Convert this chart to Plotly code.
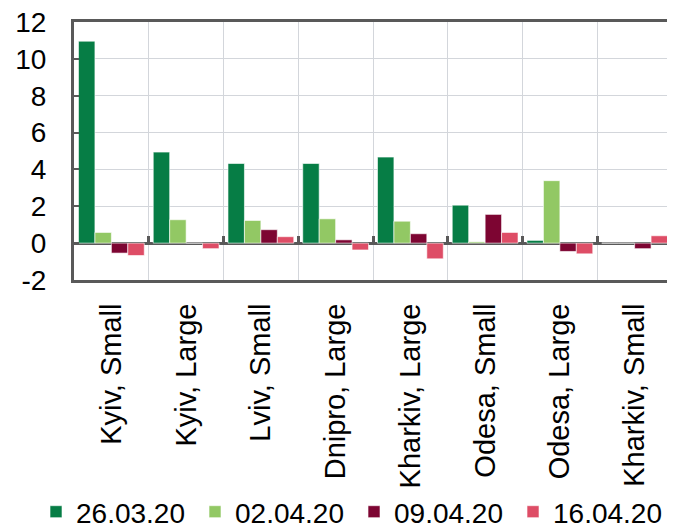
import plotly.graph_objects as go

categories = ["Kyiv, Small", "Kyiv, Large", "Lviv, Small", "Dnipro, Large",
              "Kharkiv, Large", "Odesa, Small", "Odesa, Large", "Kharkiv, Small"]
series_names = ["26.03.20", "02.04.20", "09.04.20", "16.04.20"]
s_26_03 = [10.96, 4.94, 4.32, 4.32, 4.67, 2.06, 0.15, 0.0]
s_02_04 = [0.58, 1.27, 1.23, 1.32, 1.19, 0.07, 3.39, 0.0]
s_09_04 = [-0.54, 0.0, 0.73, 0.18, 0.51, 1.56, -0.45, -0.30]
s_16_04 = [-0.67, -0.30, 0.35, -0.37, -0.85, 0.58, -0.58, 0.40]
y_ticks = [-2, 0, 2, 4, 6, 8, 10, 12]
y_tick_text = ["-2", "0", "2", "4", "6", "8", "10", "12"]

colors = ["#067D45", "#92C864", "#7D0532", "#DE4D66"]
FONT = "Liberation Sans, Arial, sans-serif"

fig = go.Figure()
for name, vals, col in zip(series_names, [s_26_03, s_02_04, s_09_04, s_16_04], colors):
    fig.add_trace(go.Bar(
        x=categories, y=vals, name=name,
        marker=dict(color=col, line=dict(color="rgba(255,255,255,0.6)", width=1)),
    ))

# helper trace for the tick marks on the zero line
fig.add_trace(go.Scatter(x=categories, y=[0] * len(categories), xaxis="x2",
                         mode="none", showlegend=False, hoverinfo="skip"))

# the page body has an 8px margin, so the figure is sized to the visible area
W, H = 667, 521
ml, mr, mt, mb = 66, 3, 14, 249
plot_h = H - mt - mb
ymin, ymax = y_ticks[0], y_ticks[-1]
zero_pos = (0 - ymin) / (ymax - ymin)

fig.update_layout(
    width=W, height=H,
    margin=dict(l=ml, r=mr, t=mt, b=mb, autoexpand=False),
    paper_bgcolor="white", plot_bgcolor="white",
    font=dict(family=FONT, size=28, color="black"),
    barmode="group", bargap=0.12, bargroupgap=0,
    showlegend=True,
    legend=dict(orientation="h", x=-0.0635, xanchor="left",
                y=-232 / plot_h, yanchor="middle",
                font=dict(size=28), itemwidth=30, tracegroupgap=0,
                entrywidth=114, entrywidthmode="pixels",
                bgcolor="rgba(0,0,0,0)"),
    xaxis=dict(
        type="category", categoryorder="array", categoryarray=categories,
        range=[-0.5, len(categories) - 0.5], automargin=False,
        tickangle=-90, tickson="boundaries", ticks="", showgrid=True,
        gridcolor="#D3D6DB", gridwidth=1, ticklabelstandoff=9,
        ticklabeloverflow="allow",
        showline=True, linecolor="#595959", linewidth=3, mirror=True,
        tickfont=dict(size=29),
    ),
    xaxis2=dict(
        type="category", overlaying="x", matches="x", anchor="free",
        position=zero_pos, side="bottom", automargin=False,
        categoryorder="array", categoryarray=categories,
        ticks="inside", tickson="boundaries", ticklen=7, tickwidth=3,
        tickcolor="#595959", showticklabels=False, showgrid=False,
        showline=False, zeroline=False,
    ),
    yaxis=dict(
        range=[ymin, ymax], tickvals=y_ticks, ticktext=y_tick_text,
        ticks="inside", ticklen=5, automargin=False,
        tickwidth=2, tickcolor="#595959", ticklabelstandoff=19,
        ticklabeloverflow="allow",
        showgrid=True, gridcolor="#D3D6DB", gridwidth=1,
        zeroline=True, zerolinecolor="#595959", zerolinewidth=3,
        showline=True, linecolor="#595959", linewidth=3, mirror=True,
        tickfont=dict(size=28),
    ),
)

fig.write_html("out.html")
